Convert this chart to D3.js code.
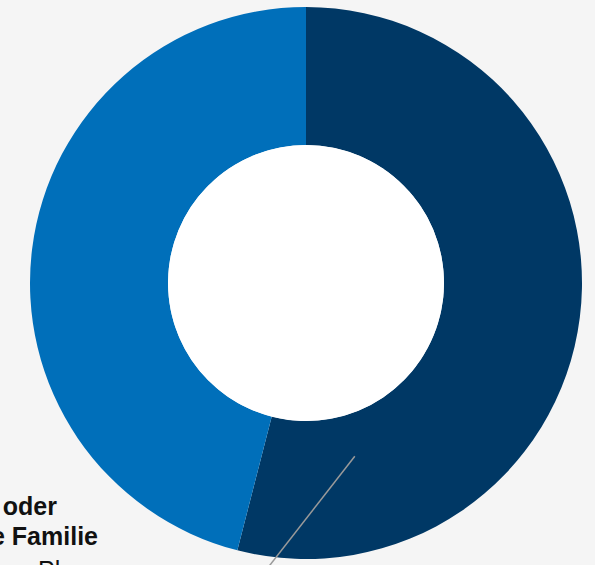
<!DOCTYPE html>
<html>
<head>
<meta charset="utf-8">
<script src="https://cdn.jsdelivr.net/npm/d3@7"></script>
<style>
  body { margin: 0; background: #f5f5f5; }
  svg { display: block; }
  .label { font-family: 'Liberation Sans', Arial, sans-serif; font-size: 25px; fill: #111; }
  .label-bold { font-weight: bold; }
</style>
</head>
<body>
<svg width="595" height="565"></svg>
<script>
const categories = ['Partner oder eigene Familie', 'Andere']
const values = [54, 46]
const colors = ['#003865', '#006fba']

const svg = d3.select('svg')
const width = +svg.attr('width')
const height = +svg.attr('height')

const cx = 306
const cy = 283
const outerRadius = 276
const innerRadius = 138

const data = categories.map((c, i) => ({ category: c, value: values[i] }))

const pie = d3.pie()
  .sort(null)
  .value(d => d.value)

const arc = d3.arc()
  .innerRadius(innerRadius)
  .outerRadius(outerRadius)

const g = svg.append('g')
  .attr('transform', `translate(${cx}, ${cy})`)

const arcs = pie(data)

g.selectAll('path').data(arcs)
  .enter().append('path')
  .attr('d', arc)
  .attr('fill', (d, i) => colors[i])

g.append('circle')
  .attr('r', innerRadius)
  .attr('fill', '#fff')

// leader line from the first slice toward its label (off canvas, lower left)
const a = arcs[0]
const lineAngle = a.startAngle + (a.endAngle - a.startAngle) * 0.845
const r0 = 180
const start = [Math.sin(lineAngle) * r0, -Math.cos(lineAngle) * r0]
const end = [start[0] - 85 * 1.6, start[1] + 109 * 1.6]

g.append('line')
  .attr('x1', start[0])
  .attr('y1', start[1])
  .attr('x2', end[0])
  .attr('y2', end[1])
  .attr('stroke', '#9a9a9a')
  .attr('stroke-width', 1.5)

// label sits partly outside the canvas, as in the original
const label = svg.append('g')

label.append('text')
  .attr('class', 'label label-bold')
  .attr('x', 57)
  .attr('y', 515)
  .attr('text-anchor', 'end')
  .text('Partner oder')

label.append('text')
  .attr('class', 'label label-bold')
  .attr('x', 98)
  .attr('y', 545)
  .attr('text-anchor', 'end')
  .text('eigene Familie')

label.append('text')
  .attr('class', 'label')
  .attr('x', 38)
  .attr('y', 579)
  .text('Planung')
</script>
</body>
</html>
